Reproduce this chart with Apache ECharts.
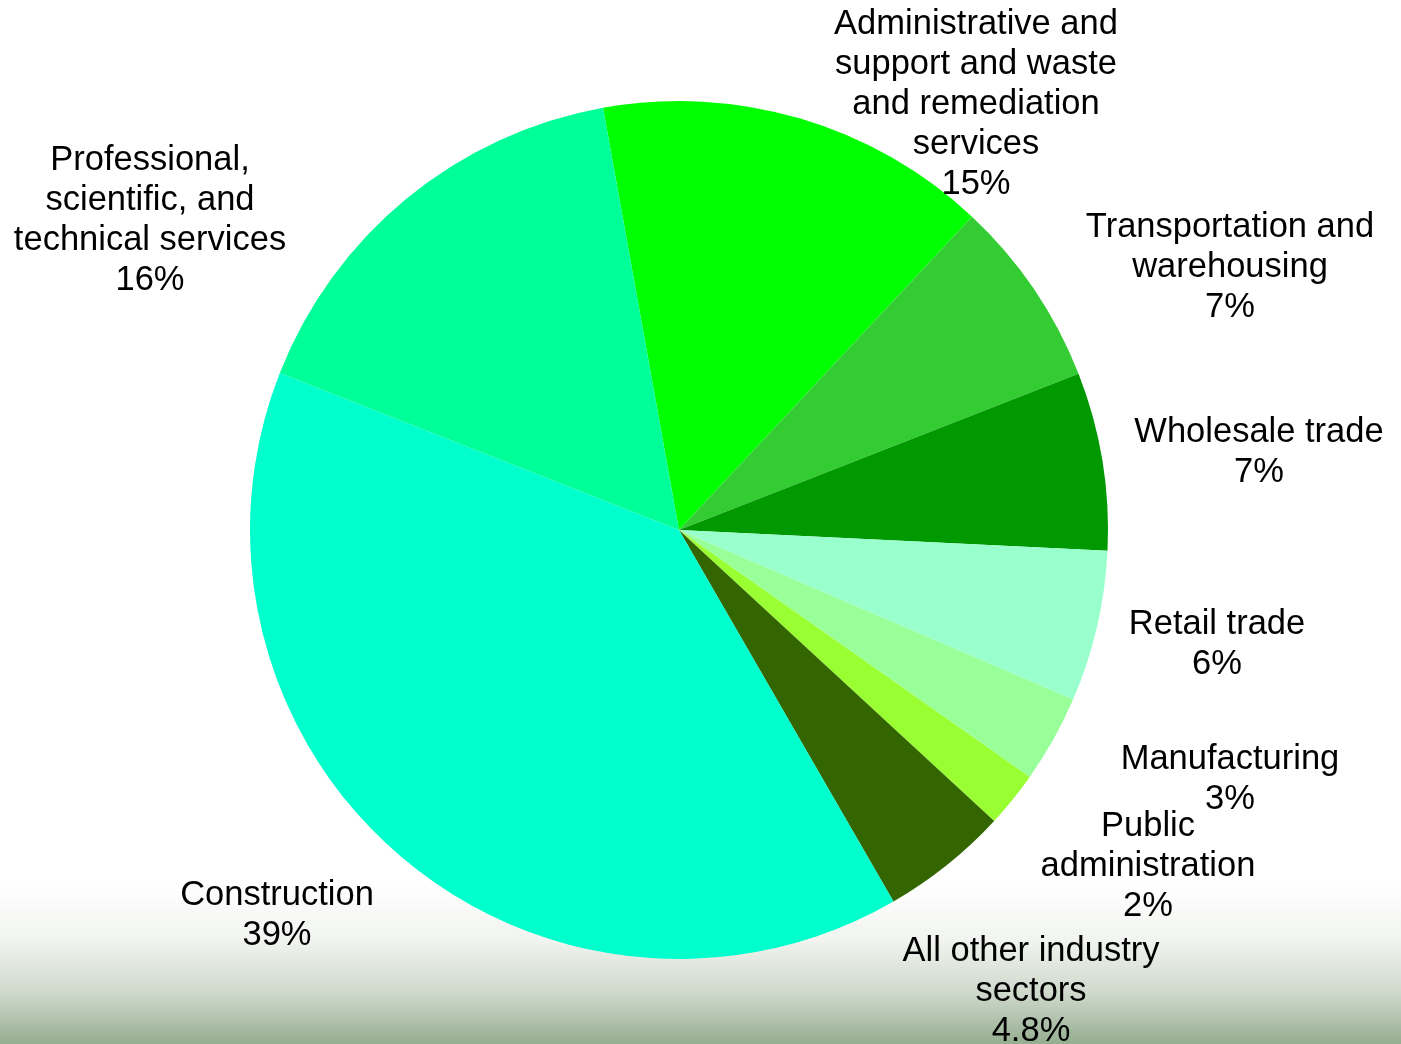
<!DOCTYPE html>
<html>
<head>
<meta charset="utf-8">
<script src="https://cdn.jsdelivr.net/npm/echarts@6/dist/echarts.min.js"></script>
<style>
html,body{margin:0;padding:0;background:#fff;}
#chart{width:1401px;height:1044px;}
</style>
</head>
<body>
<div id="chart"></div>
<script>
// Data
const categories = [
  'Administrative and support and waste and remediation services',
  'Transportation and warehousing',
  'Wholesale trade',
  'Retail trade',
  'Manufacturing',
  'Public administration',
  'All other industry sectors',
  'Construction',
  'Professional, scientific, and technical services'
];
const labelNames = [
  'Administrative and\nsupport and waste\nand remediation\nservices',
  'Transportation and\nwarehousing',
  'Wholesale trade',
  'Retail trade',
  'Manufacturing',
  'Public\nadministration',
  'All other industry\nsectors',
  'Construction',
  'Professional,\nscientific, and\ntechnical services'
];
const values = [14.8, 7.1, 6.7, 5.7, 3.3, 2.1, 4.8, 39.3, 16.2];
const pctLabels = ['15%', '7%', '7%', '6%', '3%', '2%', '4.8%', '39%', '16%'];
const colors = ['#00FF00', '#33CC33', '#009900', '#99FFCC', '#99FF99', '#99FF33', '#336600', '#00FFCC', '#00FF99'];

// Label anchor points (layout only)
const labelAnchors = [
  [976, 104], [1230, 267], [1259, 452], [1217, 644], [1230, 779],
  [1148, 866], [1031, 991], [277, 915], [150, 220]
];

const chart = echarts.init(document.getElementById('chart'), null, {renderer: 'canvas'});
chart.setOption({
  animation: false,
  backgroundColor: {
    type: 'linear', x: 0, y: 0, x2: 0, y2: 1,
    colorStops: [
      {offset: 0, color: '#ffffff'},
      {offset: 0.845, color: '#ffffff'},
      {offset: 0.9, color: '#f1f4f0'},
      {offset: 0.95, color: '#d0dacd'},
      {offset: 1, color: '#95ad90'}
    ]
  },
  series: [{
    type: 'pie',
    center: [679, 530],
    radius: 429,
    startAngle: 100.2,
    clockwise: true,
    avoidLabelOverlap: false,
    itemStyle: {borderWidth: 0},
    label: {
      show: true,
      position: 'outside',
      color: '#000',
      fontFamily: 'Liberation Sans, Arial, sans-serif',
      fontSize: 34.5,
      lineHeight: 40,
      align: 'center',
      formatter: function (p) {
        return labelNames[p.dataIndex] + '\n' + pctLabels[p.dataIndex];
      }
    },
    labelLine: {show: false},
    labelLayout: function (p) {
      const a = labelAnchors[p.dataIndex];
      return {x: a[0], y: a[1], align: 'center', verticalAlign: 'middle'};
    },
    emphasis: {disabled: true},
    data: categories.map(function (c, i) {
      return {name: c, value: values[i], itemStyle: {color: colors[i]}};
    })
  }]
});
</script>
</body>
</html>
